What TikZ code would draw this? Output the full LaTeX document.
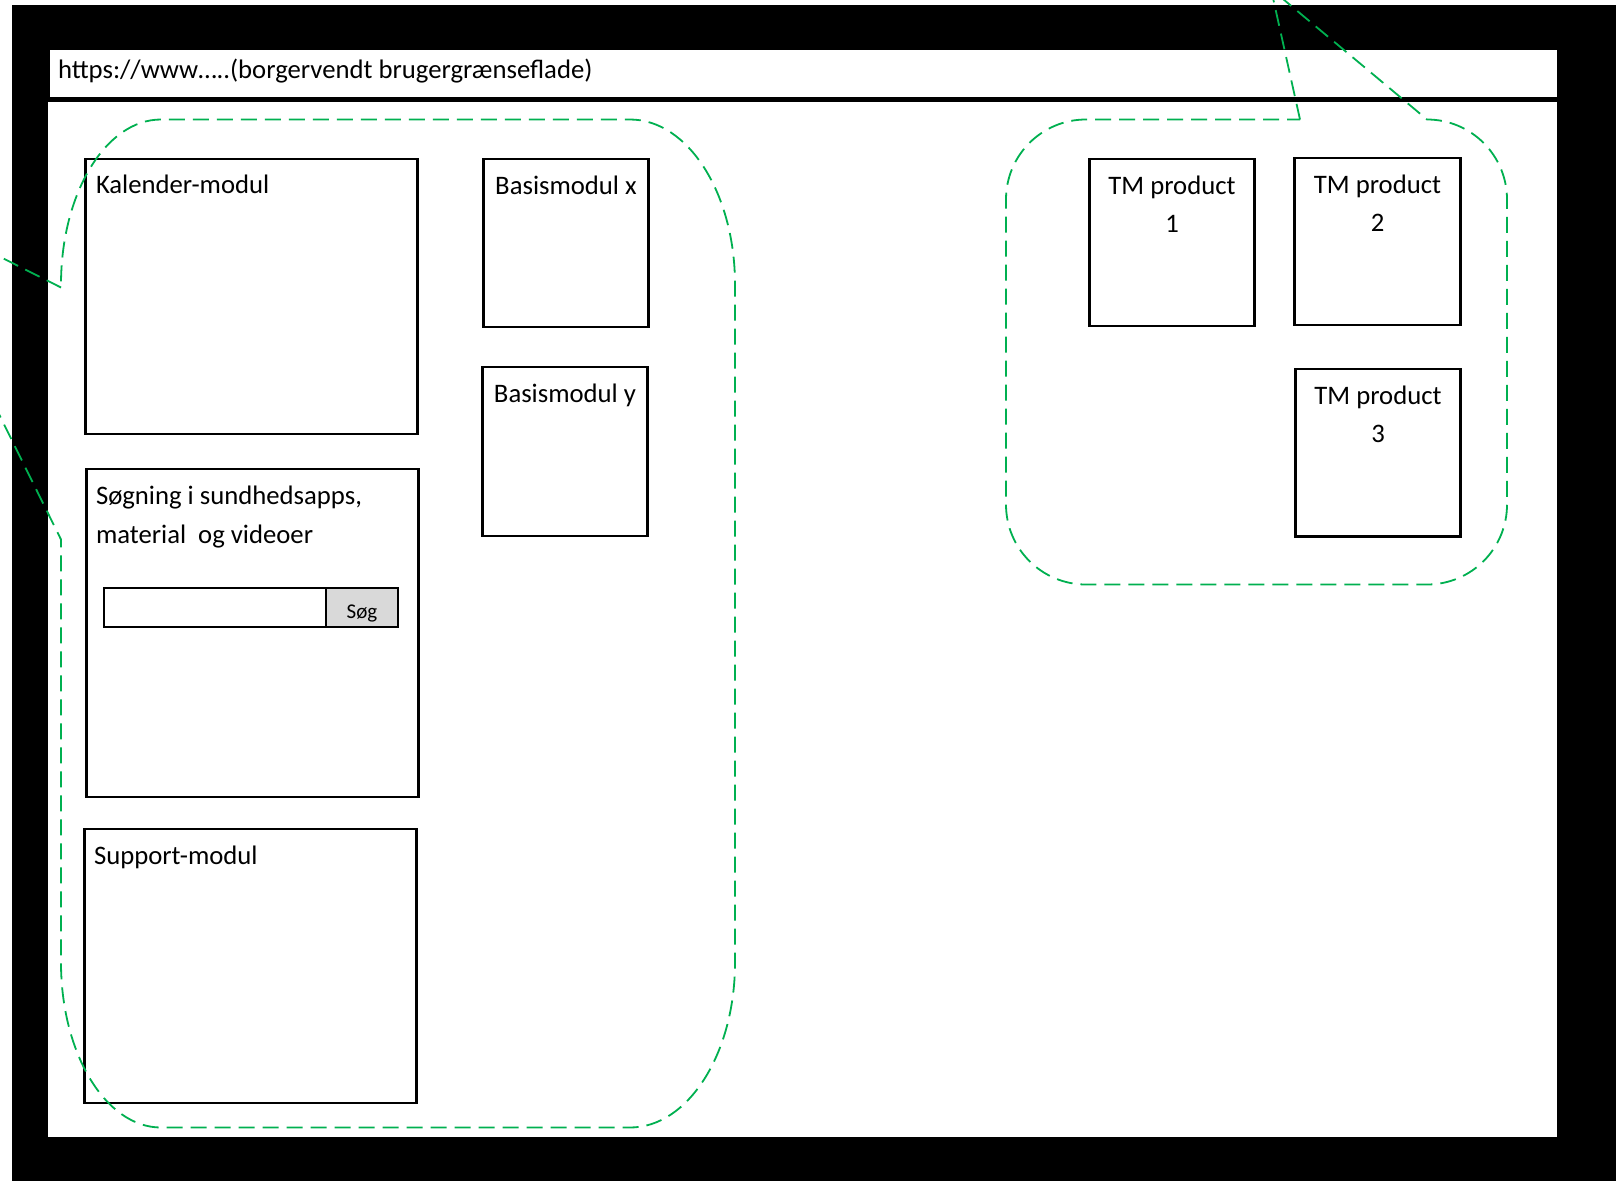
\documentclass[tikz,border=0pt]{standalone}
\usepackage{fontspec}
\setmainfont{Carlito}
\definecolor{grn}{HTML}{00B050}
\definecolor{btngray}{HTML}{D9D9D9}
\begin{document}
\begin{tikzpicture}[x=1pt,y=-1pt,
  modbox/.style={draw=black, line width=2.2pt, fill=white, anchor=north west, inner sep=0pt, outer sep=0pt},
  fieldbox/.style={draw=black, line width=2.8pt, anchor=north west, inner sep=0pt, outer sep=0pt},
  txt/.style={inner sep=0pt, outer sep=0pt, font=\fontsize{26.7}{32}\selectfont},
  smalltxt/.style={inner sep=0pt, outer sep=0pt, font=\fontsize{21}{25}\selectfont},
  callout/.style={draw=grn, line width=1.8pt, dash pattern=on 16pt off 8pt, line join=miter}]
\useasboundingbox (0,0) rectangle (1616,1181);
\clip (0,0) rectangle (1616,1181);
\fill[white] (0,0) rectangle (1616,1181);
% browser frame
\fill[black] (12,5) rectangle (1616,1181);
\fill[white] (50,50) rectangle (1557,97);
\fill[white] (48,102) rectangle (1557,1137);
\node[txt, anchor=base west] (url) at (58,78) {https://www…..(borgervendt brugergrænseflade)};
% left column modules
\node[modbox, minimum width=332pt, minimum height=275pt] (kal) at (85.5,159) {};
\node[txt, anchor=base west] (kaltxt) at ([xshift=10.5pt,yshift=-34pt]kal.north west) {Kalender-modul};
\node[modbox, minimum width=332pt, minimum height=328pt] (sog) at (86.5,469) {};
\node[txt, anchor=base west] (sogtxta) at ([xshift=9.5pt,yshift=-35pt]sog.north west) {Søgning i sundhedsapps,};
\node[txt, anchor=base west] (sogtxtb) at ([xshift=9.5pt,yshift=-74pt]sog.north west) {material~ og videoer};
\node[fieldbox, fill=white, minimum width=222pt, minimum height=39pt] (inp) at (104,588) {};
\node[fieldbox, fill=btngray, minimum width=72pt, minimum height=39pt] (btn) at (326,588) {};
\node[smalltxt, anchor=base] (btntxt) at ([yshift=-30pt]btn.north) {Søg};
\node[modbox, minimum width=332pt, minimum height=274pt] (sup) at (84.5,829) {};
\node[txt, anchor=base west] (suptxt) at ([xshift=9.5pt,yshift=-35pt]sup.north west) {Support-modul};
% basis modules
\node[modbox, minimum width=165pt, minimum height=168pt] (bx) at (483.5,159) {};
\node[txt, anchor=base] (bxtxt) at ([yshift=-35pt]bx.north) {Basismodul x};
\node[modbox, minimum width=165pt, minimum height=169pt] (by) at (482.5,367) {};
\node[txt, anchor=base] (bytxt) at ([yshift=-35pt]by.north) {Basismodul y};
% TM products
\node[modbox, minimum width=165pt, minimum height=167pt] (tm1) at (1089.5,159) {};
\node[txt, anchor=base] (tm1a) at ([yshift=-35pt]tm1.north) {TM product};
\node[txt, anchor=base] (tm1b) at ([yshift=-73pt]tm1.north) {1};
\node[modbox, minimum width=166pt, minimum height=167pt] (tm2) at (1294.5,158) {};
\node[txt, anchor=base] (tm2a) at ([yshift=-35pt]tm2.north) {TM product};
\node[txt, anchor=base] (tm2b) at ([yshift=-73pt]tm2.north) {2};
\node[modbox, minimum width=165pt, minimum height=167.5pt] (tm3) at (1295.5,369) {};
\node[txt, anchor=base] (tm3a) at ([yshift=-35pt]tm3.north) {TM product};
\node[txt, anchor=base] (tm3b) at ([yshift=-73pt]tm3.north) {3};
% left callout
\draw[callout] (61,287.5) -- (-105,204) -- (61,539.5) -- (61,962.5)
  .. controls (61,1053.6) and (105.8,1127.5) .. (161,1127.5)
  -- (630,1127.5)
  .. controls (688,1127.5) and (735,1053.6) .. (735,962.5)
  -- (735,284.5)
  .. controls (735,193.4) and (688,119.5) .. (630,119.5)
  -- (161,119.5)
  .. controls (105.8,119.5) and (61,193.4) .. (61,284.5)
  -- cycle;
% right callout
\draw[callout] (1300,119.5) -- (1271,-11) -- (1427,119.5)
  .. controls (1471.2,119.5) and (1507,155.3) .. (1507,199.5)
  -- (1507,504.5)
  .. controls (1507,548.7) and (1471.2,584.5) .. (1427,584.5)
  -- (1086,584.5)
  .. controls (1041.8,584.5) and (1006,548.7) .. (1006,504.5)
  -- (1006,199.5)
  .. controls (1006,155.3) and (1041.8,119.5) .. (1086,119.5)
  -- cycle;
\end{tikzpicture}
\end{document}
